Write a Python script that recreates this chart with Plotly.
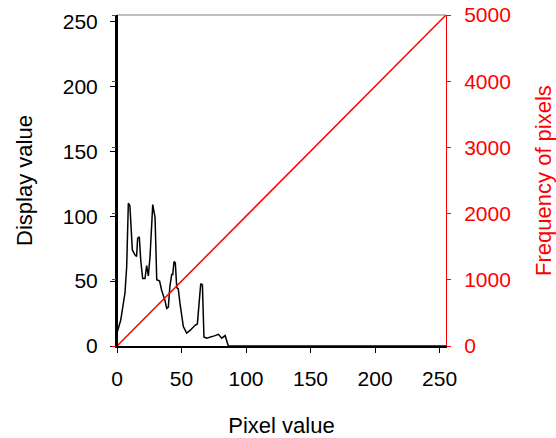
import plotly.graph_objects as go

# Histogram trace (black), in display-value units
hist_x = [0, 1, 2.9, 6.2, 7.5, 8.8, 10, 11.9, 14, 15.2, 16, 17.3, 18.4, 19.9, 21.7, 23, 24.3,
          25.6, 26.9, 27.7, 29.5, 30.8, 33, 34.6, 37.2, 38.5, 39.8, 41, 42.4, 43.2, 44.2,
          45.2, 46.3, 47.5, 48.8, 51.4, 54, 56.6, 60.5, 62.3, 63.8, 64.9, 66.2, 67.4, 69.5,
          72, 76, 78.6, 81.2, 83.8, 85, 86.3, 255]
hist_y = [10, 14, 20, 41, 61, 110, 108, 74, 70, 69, 83, 84, 66, 52, 52, 62, 54,
          69, 102, 109, 99, 51, 50, 43, 35, 29, 30, 46, 55, 55, 65,
          64, 45, 44, 33, 15, 10, 12, 16, 17, 35, 48, 47, 7, 6,
          7, 8, 9, 6, 8, 4, 0, 0]

# Display mapping (red identity line)
lut_x = [0, 255]
lut_y = [0, 255]

x_ticks = [0, 50, 100, 150, 200, 250]
y_ticks = [0, 50, 100, 150, 200, 250]
y2_ticks = [0, 1000, 2000, 3000, 4000, 5000]

FONT = "Liberation Sans, Arial, sans-serif"
RED = "#ff0000"

fig = go.Figure()
fig.add_trace(go.Scatter(x=hist_x, y=hist_y, mode="lines",
                         line=dict(color="black", width=1.5), showlegend=False))
fig.add_trace(go.Scatter(x=lut_x, y=lut_y, mode="lines",
                         line=dict(color=RED, width=1.5), showlegend=False))
fig.add_trace(go.Scatter(x=[None], y=[None], yaxis="y2", showlegend=False))

fig.update_layout(
    width=556, height=438,
    margin=dict(l=117, r=110, t=15, b=92),
    paper_bgcolor="white", plot_bgcolor="white",
    font=dict(family=FONT, size=18, color="black"),
    xaxis=dict(range=[0, 255], tickvals=x_ticks, showgrid=False, zeroline=False,
               showline=True, linecolor="black", linewidth=2,
               ticks="outside", ticklen=5, tickcolor="black", tickwidth=1,
               tickfont=dict(size=21), automargin=False, ticklabelstandoff=8,
               ticklabeloverflow="allow",
               title=dict(text="Pixel value", standoff=29)),
    yaxis=dict(range=[0, 255], tickvals=y_ticks, showgrid=False, zeroline=False,
               showline=True, linecolor="black", linewidth=2,
               ticks="outside", ticklen=5, tickcolor="black", tickwidth=1,
               tickfont=dict(size=21), automargin=False, ticklabelstandoff=8,
               ticklabeloverflow="allow",
               title=dict(text="Display value", standoff=24)),
    yaxis2=dict(range=[0, 5000], tickvals=y2_ticks, overlaying="y", side="right",
                showgrid=False, zeroline=False,
                showline=True, linecolor=RED, linewidth=1, mirror="ticks",
                ticks="outside", ticklen=4, tickcolor=RED, tickwidth=1,
                tickfont=dict(color=RED, size=21), automargin=False, ticklabelstandoff=9,
                ticklabeloverflow="allow",
                title=dict(text="Frequency of pixels", font=dict(color=RED), standoff=28)),
    shapes=[dict(type="line", xref="paper", yref="paper", x0=0, x1=1, y0=1, y1=1,
                 line=dict(color="#808080", width=1)),
            dict(type="line", xref="paper", yref="paper", x0=0, x1=0, y0=0, y1=1,
                 line=dict(color="black", width=2), layer="above")],
)

fig.write_html("out.html", config={"displayModeBar": False},
               post_script="document.body.style.margin='0';")
